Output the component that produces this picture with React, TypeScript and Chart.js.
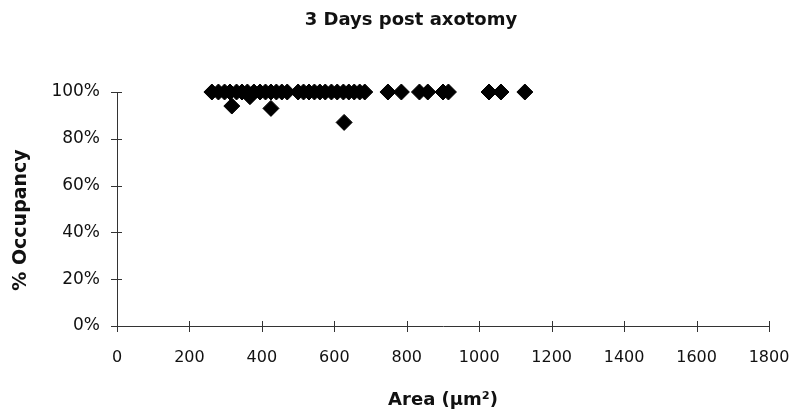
import React, { useEffect, useRef } from "react";
import { Chart, registerables } from "chart.js";

Chart.register(...registerables);

// Area (µm²) and % occupancy
const areaValues = [
  262, 280, 297, 312, 330, 345, 360, 378, 395, 410, 425, 440, 455, 470, 500,
  515, 530, 545, 560, 575, 592, 608, 625, 640, 655, 670, 684,
  748, 785, 835, 858, 900, 915, 1027, 1060, 1126,
  317, 367, 425, 627,
];
const occupancyValues = [
  100, 100, 100, 100, 100, 100, 100, 100, 100, 100, 100, 100, 100, 100, 100,
  100, 100, 100, 100, 100, 100, 100, 100, 100, 100, 100, 100,
  100, 100, 100, 100, 100, 100, 100, 100, 100,
  94, 98, 93, 87,
];
const xTicks = [0, 200, 400, 600, 800, 1000, 1200, 1400, 1600, 1800];
const yTicks = [0, 20, 40, 60, 80, 100];
const titleText = "3 Days post axotomy";
const xTitle = "Area (\u03bcm\u00b2)";
const yTitle = "% Occupancy";

const decorations = {
  id: "decorations",
  afterDatasetsDraw(chart: any) {
    const ctx = chart.ctx;
    const xs = chart.scales.x;
    const ys = chart.scales.y;
    ctx.save();
    ctx.strokeStyle = "#333";
    ctx.lineWidth = 1;
    ctx.beginPath();
    xTicks.forEach((v) => {
      const px = Math.round(xs.getPixelForValue(v)) + 0.5;
      ctx.moveTo(px, ys.bottom - 5);
      ctx.lineTo(px, ys.bottom + 6);
    });
    yTicks.forEach((v) => {
      const py = Math.round(ys.getPixelForValue(v)) + 0.5;
      ctx.moveTo(xs.left - 6, py);
      ctx.lineTo(xs.left + 5, py);
    });
    ctx.stroke();

    ctx.fillStyle = "#111";
    ctx.textAlign = "center";
    ctx.textBaseline = "middle";
    ctx.font = "bold 18px 'DejaVu Sans'";
    ctx.fillText(titleText, 411, 20);

    ctx.translate(21, (ys.top + ys.bottom) / 2 + 11);
    ctx.rotate(-Math.PI / 2);
    ctx.font = "bold 19px 'DejaVu Sans'";
    ctx.fillText(yTitle, 0, 0);
    ctx.restore();
  },
};

export default function App() {
  const ref = useRef<HTMLCanvasElement>(null);
  useEffect(() => {
    if (!ref.current) return;
    const data = areaValues.map((a, i) => ({ x: a, y: occupancyValues[i] }));
    const chart = new Chart(ref.current, {
      type: "scatter",
      data: {
        datasets: [
          {
            data,
            clip: false,
            pointStyle: "rectRot",
            pointRadius: 8,
            pointHoverRadius: 8,
            backgroundColor: "#000",
            borderColor: "#000",
            borderWidth: 1,
          },
        ],
      },
      options: {
        responsive: false,
        animation: false,
        layout: { padding: { left: 0, right: 28, top: 92, bottom: 0 } },
        plugins: {
          legend: { display: false },
          tooltip: { enabled: false },
          title: { display: false },
        },
        scales: {
          x: {
            type: "linear",
            min: 0,
            max: 1800,
            afterFit(scale: any) {
              scale.height = 94;
              scale.paddingLeft = 0;
              scale.paddingRight = 0;
            },
            afterBuildTicks(scale: any) {
              scale.ticks = xTicks.map((v) => ({ value: v }));
            },
            grid: { display: false, drawTicks: false },
            border: { display: true, color: "#333", width: 1 },
            ticks: {
              color: "#111",
              padding: 22,
              maxRotation: 0,
              font: { family: "DejaVu Sans", size: 16 },
              callback: (v: any) => String(v),
            },
            title: {
              display: true,
              text: xTitle,
              color: "#111",
              font: { family: "DejaVu Sans", size: 18, weight: "bold", lineHeight: 1.2 },
              padding: { top: 0, bottom: 9 },
            },
          },
          y: {
            type: "linear",
            min: 0,
            max: 100,
            afterFit(scale: any) {
              scale.width = 117;
              scale.paddingTop = 0;
              scale.paddingBottom = 0;
            },
            afterBuildTicks(scale: any) {
              scale.ticks = yTicks.map((v) => ({ value: v }));
            },
            grid: { display: false, drawTicks: false },
            border: { display: true, color: "#333", width: 1 },
            ticks: {
              color: "#111",
              padding: 17,
              font: { family: "DejaVu Sans", size: 17 },
              callback: (v: any) => v + "%",
            },
          },
        },
      },
      plugins: [decorations],
    });
    return () => chart.destroy();
  }, []);
  return (
    <canvas
      ref={ref}
      width={797}
      height={420}
      style={{ position: "absolute", left: 0, top: 0, background: "#fff" }}
    />
  );
}
